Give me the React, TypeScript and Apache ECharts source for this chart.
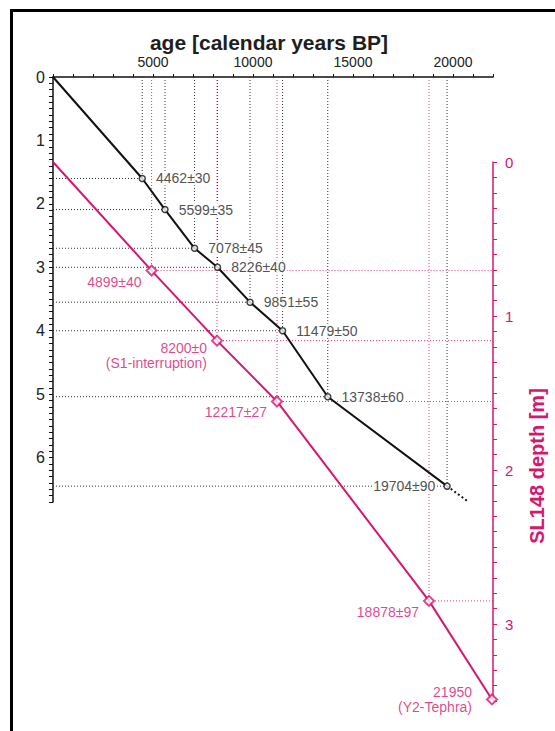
import React, { useEffect, useRef } from 'react';
import * as echarts from 'echarts';

// ---- data ----
// upper core (black): calibrated ages and depth on the left axis [m]
const blackAges = [4462, 5599, 7078, 8226, 9851, 11479, 13738, 19704];
const blackErrors = [30, 35, 45, 40, 55, 50, 60, 90];
const blackDepths = [1.6, 2.09, 2.7, 3.0, 3.55, 4.0, 5.04, 6.45];
// dotted extrapolation beyond the deepest date
const blackExtAge = 20700;
const blackExtDepth = 6.68;

// SL148 (magenta): labelled ages, plotted ages and depth on the right axis [m]
const magentaLabelAges = [4899, 8200, 12217, 18878, 21950];
const magentaErrors: (number | null)[] = [40, 0, 27, 97, null];
const magentaNotes = ['', 'S1-interruption', '', '', 'Y2-Tephra'];
const magentaPlotAges = [4930, 8200, 11200, 18800, 21950];
const magentaDepths = [0.705, 1.16, 1.555, 2.85, 3.49];

// axes
const AGE_MAX = 22000;
const AGE_LABEL_STEP = 5000;
const AGE_TICK_STEP = 1000;
const LEFT_DEPTH_MAX = 6.7;
const RIGHT_DEPTH_MAX = 3.5;
const DEPTH_TICK_STEP = 0.1;

// ---- layout ----
const GRID_LEFT = 53;
const GRID_W = 440;
const TOP1 = 77;
const H1 = 425;
const TOP2 = 162;
const H2 = 539;

const MAG = '#d6166f';
const INK = '#1e1e1e';
const FONT = '"Liberation Sans", Arial, sans-serif';

const isInt = (v: number) => Math.abs(v - Math.round(v)) < 1e-6;

export default function App() {
  const ref = useRef<HTMLDivElement>(null);

  useEffect(() => {
    const chart = echarts.init(ref.current!, null, { renderer: 'svg' });

    // depth (right-axis units) of the top age axis, for the magenta guide lines
    const topDepth2 = -((TOP2 - TOP1) / H2) * RIGHT_DEPTH_MAX;

    const dotBlack = { color: '#333', width: 1, type: [1, 2] as number[] };
    const dotMag = { color: MAG, width: 1, type: [1, 2] as number[], opacity: 0.85 };

    const series: any[] = [];

    blackAges.forEach((a, i) => {
      const d = blackDepths[i];
      series.push({
        type: 'line', xAxisIndex: 0, yAxisIndex: 0, silent: true, symbol: 'none', z: 1,
        lineStyle: dotBlack, data: [[0, d], [a, d]],
      });
      series.push({
        type: 'line', xAxisIndex: 0, yAxisIndex: 0, silent: true, symbol: 'none', z: 1,
        lineStyle: dotBlack, data: [[a, 0], [a, d]],
      });
    });

    magentaPlotAges.forEach((a, i) => {
      if (i === magentaPlotAges.length - 1) return;
      const d = magentaDepths[i];
      series.push({
        type: 'line', xAxisIndex: 1, yAxisIndex: 1, silent: true, symbol: 'none', z: 1,
        lineStyle: dotMag, data: [[a, d], [AGE_MAX, d]],
      });
      series.push({
        type: 'line', xAxisIndex: 1, yAxisIndex: 1, silent: true, symbol: 'none', z: 1,
        clip: false, lineStyle: dotMag, data: [[a, topDepth2], [a, d]],
      });
    });

    // main age-depth lines
    series.push({
      type: 'line', xAxisIndex: 0, yAxisIndex: 0, symbol: 'none', z: 3, clip: false,
      lineStyle: { color: '#111', width: 2 },
      data: [[0, 0], ...blackAges.map((a, i) => [a, blackDepths[i]])],
    });
    series.push({
      type: 'line', xAxisIndex: 0, yAxisIndex: 0, symbol: 'none', z: 3, clip: false,
      lineStyle: { color: '#111', width: 2, type: [2, 2.5] },
      data: [[blackAges[blackAges.length - 1], blackDepths[blackDepths.length - 1]], [blackExtAge, blackExtDepth]],
    });
    series.push({
      type: 'line', xAxisIndex: 1, yAxisIndex: 1, symbol: 'none', z: 3, clip: false,
      lineStyle: { color: MAG, width: 2 },
      data: [[0, 0], ...magentaPlotAges.map((a, i) => [a, magentaDepths[i]])],
    });

    // markers with labels
    series.push({
      type: 'scatter', xAxisIndex: 0, yAxisIndex: 0, z: 5, clip: false,
      symbol: 'circle', symbolSize: 6,
      itemStyle: { color: '#fff', borderColor: '#111', borderWidth: 1.5 },
      data: blackAges.map((a, i) => ({
        value: [a, blackDepths[i]],
        label: {
          show: true,
          formatter: `${a}±${blackErrors[i]}`,
          position: i === blackAges.length - 1 ? 'left' : 'right',
          distance: i === blackAges.length - 1 ? 7 : 9,
          color: '#222', fontSize: 14, fontFamily: FONT,
          backgroundColor: '#fff', padding: [0, 1],
        },
      })),
    });
    series.push({
      type: 'scatter', xAxisIndex: 1, yAxisIndex: 1, z: 5, clip: false,
      symbol: 'diamond', symbolSize: 10,
      itemStyle: { color: '#fff', borderColor: MAG, borderWidth: 2 },
      data: magentaPlotAges.map((a, i) => {
        const last = i === magentaPlotAges.length - 1;
        const err = magentaErrors[i];
        let text = err === null ? `${magentaLabelAges[i]}` : `${magentaLabelAges[i]}±${err}`;
        const twoLines = !!magentaNotes[i];
        if (twoLines) text += `\n(${magentaNotes[i]})`;
        return {
          value: [a, magentaDepths[i]],
          label: {
            show: true,
            formatter: text,
            position: 'left',
            distance: last ? 13 : 3,
            offset: last ? [0, 0] : [0, twoLines ? 15 : 11],
            align: 'right',
            lineHeight: 15,
            color: MAG, fontSize: 14, fontFamily: FONT,
            backgroundColor: '#fff', padding: [0, 1],
          },
        };
      }),
    });

    const option: any = {
      animation: false,
      backgroundColor: '#fff',
      textStyle: { fontFamily: FONT },
      grid: [
        { left: GRID_LEFT, top: TOP1, width: GRID_W, height: H1 },
        { left: GRID_LEFT, top: TOP2, width: GRID_W, height: H2 },
      ],
      xAxis: [
        {
          type: 'value', gridIndex: 0, position: 'top', min: 0, max: AGE_MAX, interval: AGE_TICK_STEP,
          axisLine: { show: true, onZero: false, lineStyle: { color: '#111', width: 1.5 } },
          axisTick: { show: true, length: 3, lineStyle: { color: '#111', width: 1 } },
          axisLabel: {
            margin: 8, color: '#222', fontSize: 14, fontFamily: FONT,
            formatter: (v: number) => (v > 0 && v % AGE_LABEL_STEP === 0 ? String(v) : ''),
          },
          splitLine: { show: false },
        },
        {
          type: 'value', gridIndex: 1, min: 0, max: AGE_MAX, show: false,
          axisLine: { onZero: false },
          splitLine: { show: false },
        },
      ],
      yAxis: [
        {
          type: 'value', gridIndex: 0, position: 'left', inverse: true, min: 0, max: LEFT_DEPTH_MAX,
          interval: DEPTH_TICK_STEP,
          axisLine: { show: true, onZero: false, lineStyle: { color: '#111', width: 1.5 } },
          axisTick: { show: true, length: 4, lineStyle: { color: '#111', width: 1 } },
          axisLabel: {
            margin: 8, color: '#222', fontSize: 16, fontFamily: FONT,
            formatter: (v: number) => (isInt(v) ? String(Math.round(v)) : ''),
          },
          splitLine: { show: false },
        },
        {
          type: 'value', gridIndex: 1, position: 'right', inverse: true, min: 0, max: RIGHT_DEPTH_MAX,
          interval: DEPTH_TICK_STEP,
          axisLine: { show: true, onZero: false, lineStyle: { color: MAG, width: 1.5 } },
          axisTick: { show: true, length: 4, lineStyle: { color: MAG, width: 1 } },
          axisLabel: {
            margin: 12, color: MAG, fontSize: 15, fontFamily: FONT,
            formatter: (v: number) => (isInt(v) ? String(Math.round(v)) : ''),
          },
          splitLine: { show: false },
        },
      ],
      graphic: [
        { type: 'line', shape: { x1: 11.5, y1: 9, x2: 11.5, y2: 731 }, style: { stroke: '#000', lineWidth: 3 } },
        { type: 'line', shape: { x1: 10, y1: 10.5, x2: 555, y2: 10.5 }, style: { stroke: '#000', lineWidth: 3 } },
        {
          type: 'text', x: 269, y: 42,
          style: {
            text: 'age [calendar years BP]', fontSize: 21, fontWeight: 'bold', fontFamily: FONT,
            fill: INK, align: 'center', verticalAlign: 'middle',
          },
        },
        {
          type: 'text', x: 537, y: 466, rotation: Math.PI / 2,
          style: {
            text: 'SL148 depth [m]', fontSize: 20, fontWeight: 'bold', fontFamily: FONT,
            fill: MAG, align: 'center', verticalAlign: 'middle',
          },
        },
      ],
      series,
    };

    chart.setOption(option);
    return () => chart.dispose();
  }, []);

  return (
    <div
      ref={ref}
      style={{ position: 'fixed', left: 0, top: 0, width: 555, height: 731, background: '#fff' }}
    />
  );
}
